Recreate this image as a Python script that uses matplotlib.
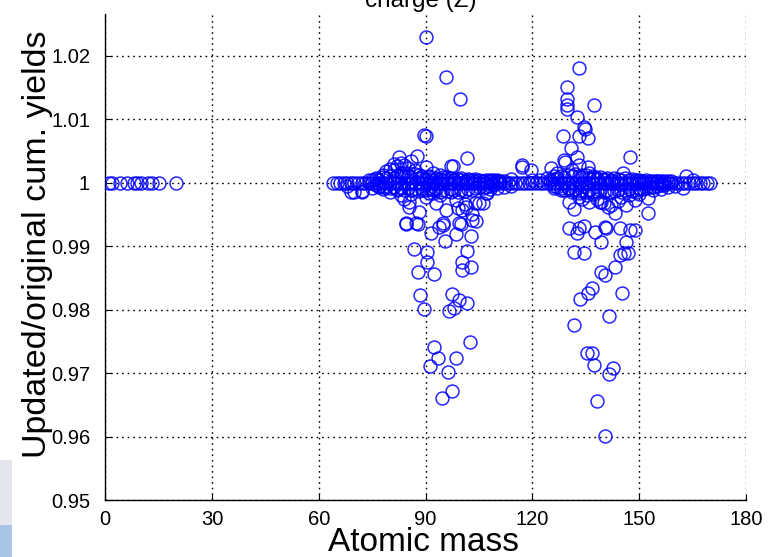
import matplotlib
matplotlib.use("Agg")
import matplotlib.pyplot as plt
from matplotlib.patches import Rectangle

plt.rcParams['font.family'] = ['Liberation Sans', 'DejaVu Sans']

# ---------------- data ----------------
light_mass = [1, 2, 4, 6, 8, 9, 10, 12, 13, 15, 20]
light_ratio = [1.0, 1.0, 1.0, 1.0, 1.0, 1.0, 1.0, 1.0, 1.0, 1.0, 1.0]

band_mass = [64, 65, 66, 67, 68, 69, 70, 71, 72, 73, 74, 75, 76, 77, 78, 79, 80,
             81, 82, 83, 84, 85, 86, 87, 88, 89, 90, 91, 92, 93, 94, 95, 96, 97,
             98, 99, 100, 101, 102, 103, 104, 105, 106, 107, 108, 109, 110, 111,
             112, 113, 114, 115, 116, 117, 118, 119, 120, 121, 122, 123, 124, 125,
             126, 127, 128, 129, 130, 131, 132, 133, 134, 135, 136, 137, 138, 139,
             140, 141, 142, 143, 144, 145, 146, 147, 148, 149, 150, 151, 152, 153,
             154, 155, 156, 157, 158, 159, 160, 161, 162, 163, 164, 165, 166, 167,
             168, 169, 170]
band_ratio = [1.0] * len(band_mass)

near_mass = [68, 70, 72, 74, 76, 77, 78, 79, 80, 81, 82, 83, 84, 85, 86, 81, 83,
             85, 87, 88, 89, 90, 91, 92, 93, 94, 95, 96, 97, 98, 100, 102, 104,
             106, 108, 110, 112, 114, 120, 122, 124, 126, 127, 131, 133, 134,
             136, 137, 138, 140, 142, 150, 155, 165,
             75, 78, 80, 82, 83, 84, 86, 89, 90, 91, 92, 93, 94, 97, 99, 101,
             103, 104, 105, 107, 108, 110, 112, 114, 126, 128, 131, 133, 134,
             136, 137, 138, 139, 140, 144, 145, 147, 149, 150, 154, 156, 158,
             160]
near_ratio = [0.9995, 0.9986, 0.9987, 1.0005, 1.0008, 0.9993, 1.0012, 1.0018,
              1.0022, 1.0030, 1.0026, 1.0031, 1.0028, 1.0024, 1.0034, 1.0020,
              1.0015, 1.0010, 1.0020, 1.0013, 1.0008, 1.0025, 1.0010, 1.0016,
              1.0006, 1.0012, 1.0004, 1.0009, 1.0027, 1.0005, 1.0008, 1.0004,
              1.0006, 1.0003, 1.0005, 1.0004, 1.0003, 1.0006, 1.0005, 1.0004,
              1.0008, 1.0010, 1.0015, 1.0020, 1.0028, 1.0012, 1.0016, 1.0008,
              1.0006, 1.0004, 1.0003, 1.0003, 1.0002, 1.0005,
              0.9992, 0.9990, 0.9985, 0.9988, 0.9980, 0.9975, 0.9982, 0.9988,
              0.9978, 0.9984, 0.9990, 0.9968, 0.9980, 0.9985, 0.9960, 0.9966,
              0.9950, 0.9968, 0.9968, 0.9984, 0.9990, 0.9992, 0.9994, 0.9995,
              0.9992, 0.9988, 0.9985, 0.9978, 0.9975, 0.9970, 0.9982, 0.9975,
              0.9970, 0.9968, 0.9972, 0.9978, 0.9980, 0.9985, 0.9982, 0.9988,
              0.9990, 0.9993, 0.9995]

# small deviations that thicken the band around 1
fine_mass = [75, 76, 77, 78, 79, 80, 81, 82, 83, 84, 85, 86, 87, 88, 89, 90,
             91, 92, 93, 94, 95, 96, 97, 98, 99, 100, 101, 102, 103, 104, 105,
             106, 107, 108, 109, 110, 111,
             76, 77, 78, 79, 80, 81, 82, 83, 84, 85, 86, 87, 88, 89, 90, 91,
             92, 93, 94, 95, 96, 97, 98, 99, 100, 101, 102, 103, 104, 105, 106,
             107, 108, 109,
             125, 126, 127, 128, 129, 130, 131, 132, 133, 134, 135, 136, 137,
             138, 139, 140, 141, 142, 143, 144, 145, 146, 147, 148, 149, 150,
             151, 152, 153, 154, 155, 156, 157, 158, 159,
             126, 127, 128, 129, 130, 131, 132, 133, 134, 135, 136, 137, 138,
             139, 140, 141, 142, 143, 144, 145, 146, 147, 148, 149, 150, 151,
             152, 153, 154, 155, 156, 157]
fine_ratio = [1.0004, 1.0006, 1.0005, 1.0009, 1.0007, 1.0011, 1.0008, 1.0013,
              1.0010, 1.0016, 1.0012, 1.0009, 1.0014, 1.0007, 1.0011, 1.0006,
              1.0009, 1.0005, 1.0008, 1.0006, 1.0009, 1.0005, 1.0007, 1.0004,
              1.0006, 1.0005, 1.0003, 1.0006, 1.0004, 1.0003, 1.0005, 1.0003,
              1.0004, 1.0002, 1.0004, 1.0003, 1.0002,
              0.9996, 0.9995, 0.9993, 0.9994, 0.9991, 0.9993, 0.9990, 0.9992,
              0.9989, 0.9991, 0.9988, 0.9990, 0.9987, 0.9991, 0.9989, 0.9992,
              0.9988, 0.9990, 0.9986, 0.9989, 0.9987, 0.9990, 0.9988, 0.9986,
              0.9989, 0.9987, 0.9990, 0.9988, 0.9991, 0.9993, 0.9992, 0.9994,
              0.9995, 0.9996,
              1.0004, 1.0006, 1.0008, 1.0011, 1.0009, 1.0013, 1.0010, 1.0014,
              1.0011, 1.0009, 1.0012, 1.0008, 1.0010, 1.0007, 1.0009, 1.0006,
              1.0007, 1.0005, 1.0008, 1.0006, 1.0005, 1.0007, 1.0004, 1.0006,
              1.0004, 1.0005, 1.0003, 1.0004, 1.0003, 1.0002, 1.0003, 1.0002,
              1.0003, 1.0002, 1.0002,
              0.9995, 0.9993, 0.9991, 0.9989, 0.9992, 0.9988, 0.9990, 0.9987,
              0.9989, 0.9986, 0.9988, 0.9985, 0.9987, 0.9989, 0.9986, 0.9988,
              0.9985, 0.9987, 0.9989, 0.9986, 0.9988, 0.9990, 0.9987, 0.9989,
              0.9991, 0.9990, 0.9992, 0.9993, 0.9994, 0.9995, 0.9996, 0.9997]

outlier_mass = [90, 95.6, 99.6, 89.6, 90, 87.6, 82.6, 101.5, 97.6,
                69, 72, 85.4, 85.4, 88.2, 84.6, 87.4, 92, 95.8, 98.6, 100.2,
                101.2, 103, 106, 94.8, 99.4, 107.2,
                84.6, 87.8, 91.6, 93.8, 95, 98.6, 99.8, 102.8, 104.2, 95.5,
                86.6, 90.5, 90.5, 87.8, 92.4, 101.7, 100.2, 102.8, 100.2, 88.5,
                89.6, 97.5, 99.4, 101.7, 96.6, 98, 92.4, 102.5, 93.5, 98.6,
                91.3, 96.3, 97.5, 94.7,
                133.2, 129.6, 129.6, 129.6, 129.6, 137.4, 132.4, 134.6, 134.8,
                128.5, 133, 135.7, 147.5, 145.5, 130.7, 128.8, 129.2, 132.4,
                135.7, 117, 117, 119.5, 125.2, 163.2,
                130.2, 133, 135.2, 130.4, 131.6, 141.3, 142.2, 146.4, 148.9,
                152.5, 152.5, 139.4, 143.2, 162.2, 130.2, 133, 134.6, 132.4,
                137.7, 140.5, 140.7, 144.7, 147.5, 148.9, 139.4, 146.4, 131.6,
                134.6, 144.7, 145.8, 146.9, 143.2, 139.4, 140.5, 136.6, 135.5,
                133.5, 145.2, 141.6, 131.6, 135.2, 136.6, 137.4, 142.5, 141.6,
                138.2, 140.5]
outlier_ratio = [1.0229, 1.0166, 1.0132, 1.0076, 1.0073, 1.0042, 1.0041, 1.0039, 1.0027,
                 0.9986, 0.9986, 0.9970, 0.9962, 0.9954, 0.9937, 0.9937, 0.9984,
                 0.9957, 0.9973, 0.9957, 0.9962, 0.9942, 0.9968, 0.9937, 0.9937,
                 0.9984,
                 0.9935, 0.9935, 0.9921, 0.9931, 0.9934, 0.9920, 0.9935, 0.9916,
                 0.9939, 0.9909, 0.9896, 0.9891, 0.9875, 0.9860, 0.9856, 0.9893,
                 0.9875, 0.9868, 0.9863, 0.9823, 0.9801, 0.9825, 0.9815, 0.9811,
                 0.9798, 0.9803, 0.9741, 0.9749, 0.9724, 0.9724, 0.9711, 0.9702,
                 0.9672, 0.9661,
                 1.0181, 1.0151, 1.0132, 1.0123, 1.0117, 1.0123, 1.0103, 1.0088,
                 1.0085, 1.0074, 1.0073, 1.0071, 1.0041, 1.0016, 1.0055, 1.0036,
                 1.0033, 1.0041, 1.0025, 1.0028, 1.0025, 1.0020, 1.0024, 1.0010,
                 0.9992, 0.9984, 0.9980, 0.9970, 0.9959, 0.9962, 0.9965, 0.9965,
                 0.9973, 0.9976, 0.9953, 0.9970, 0.9953, 0.9992, 0.9929, 0.9929,
                 0.9932, 0.9921, 0.9923, 0.9931, 0.9929, 0.9929, 0.9926, 0.9926,
                 0.9907, 0.9907, 0.9891, 0.9890, 0.9886, 0.9890, 0.9890, 0.9868,
                 0.9860, 0.9855, 0.9834, 0.9827, 0.9817, 0.9827, 0.9790, 0.9776,
                 0.9732, 0.9732, 0.9713, 0.9708, 0.9699, 0.9656, 0.9601]

x_ticks = [0, 30, 60, 90, 120, 150, 180]
y_ticks = [0.95, 0.96, 0.97, 0.98, 0.99, 1.0, 1.01, 1.02]
y_tick_labels = ['0.95', '0.96', '0.97', '0.98', '0.99', '1', '1.01', '1.02']

# ---------------- figure ----------------
W, H = 769, 557
fig = plt.figure(figsize=(W / 100, H / 100), dpi=100)
ax = fig.add_axes([105.3 / W, (H - 500) / H, (746 - 105.3) / W, (500 - 14) / H])

style = dict(marker='o', linestyle='none', markerfacecolor='none',
             markeredgecolor=(0, 0, 1), markeredgewidth=1.1, markersize=9.3,
             alpha=0.85, zorder=3)
ax.plot(light_mass, light_ratio, **style)
ax.plot(band_mass, band_ratio, **style)
ax.plot(fine_mass, fine_ratio, **style)
ax.plot(near_mass, near_ratio, **style)
ax.plot(outlier_mass, outlier_ratio, **style)

ax.set_xlim(0, 180)
ax.set_ylim(0.95, 1.0266)
ax.set_xticks(x_ticks)
ax.set_xticklabels([str(t) for t in x_ticks])
ax.set_yticks(y_ticks)
ax.set_yticklabels(y_tick_labels)

for s in ['top', 'right']:
    ax.spines[s].set_visible(False)
for s in ['left', 'bottom']:
    ax.spines[s].set_linewidth(1.0)
    ax.spines[s].set_color('black')

ax.tick_params(direction='in', length=4, width=0.8, labelsize=14.5,
               colors='black')
ax.tick_params(axis='x', pad=7)
ax.tick_params(axis='y', pad=11)
ax.grid(True, color='black', linestyle=(0, (1.2, 2.8)), linewidth=1.0, zorder=1)
ax.set_axisbelow(True)

fig.text(423.5 / W, 6 / H, 'Atomic mass', fontsize=24, ha='center',
         va='baseline')
fig.text(38 / W, 1 - 244 / H, 'Updated/original cum. yields', fontsize=24.5,
         rotation=90, ha='center', va='center')
fig.text(421 / W, 1 - 7 / H, 'charge (Z)', fontsize=17.5, ha='center',
         va='baseline')

# screenshot artifact at lower left
fig.patches.append(Rectangle((0, 0), 12 / W, 32 / H, transform=fig.transFigure,
                             facecolor='#a8c3e6', edgecolor='none'))
fig.patches.append(Rectangle((0, 32 / H), 12 / W, 65 / H,
                             transform=fig.transFigure,
                             facecolor='#e3e7ed', edgecolor='none'))

fig.savefig('out.png', dpi=100)
